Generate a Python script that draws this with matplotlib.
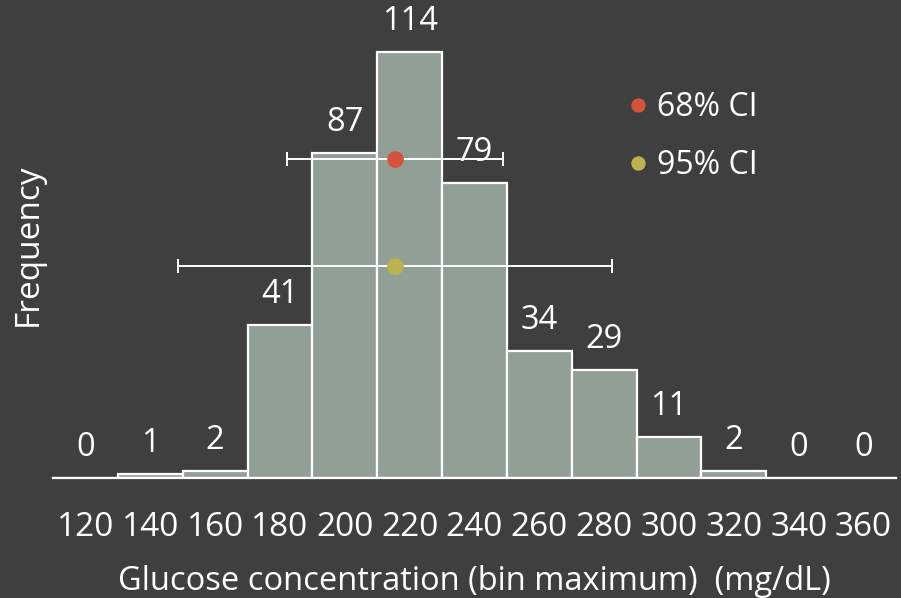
import numpy as np
import matplotlib.pyplot as plt

# Histogram of glucose readings, bins labelled by their maximum
bins = [120, 140, 160, 180, 200, 220, 240, 260, 280, 300, 320, 340, 360]
counts = [0, 1, 2, 41, 87, 114, 79, 34, 29, 11, 2, 0, 0]

# Mean and spread shown as horizontal interval bars
mean_glucose = 215.5
ci68_half = 33.3
ci95_half = 66.8
ci68_height = 85.5
ci95_height = 56.7

BG = '#3f3f3f'
BAR = '#919f95'
RED = '#d5533c'
OLIVE = '#bdb24f'
FS = 24

plt.rcParams['font.family'] = ['Open Sans', 'DejaVu Sans']

fig = plt.figure(figsize=(9.01, 5.98), dpi=100, facecolor=BG)
ax = fig.add_axes([53 / 901, 120 / 598, 843 / 901, 467 / 598])
ax.set_facecolor(BG)

x = np.arange(len(bins))
ax.bar(x, counts, width=1.0, color=BAR, edgecolor='white', linewidth=1.6)

for xi, c in zip(x, counts):
    ax.annotate(str(c), (xi, c), xytext=(0, 10), textcoords='offset points',
                ha='center', va='bottom', color='white', fontsize=FS - 0.5)


def to_pos(g):
    # convert glucose value to category position
    return (g - bins[0]) / (bins[1] - bins[0])


ax.errorbar(to_pos(mean_glucose), ci68_height,
            xerr=ci68_half / (bins[1] - bins[0]), fmt='none',
            ecolor='white', elinewidth=1.4, capsize=5, capthick=1.4)
ax.errorbar(to_pos(mean_glucose), ci95_height,
            xerr=ci95_half / (bins[1] - bins[0]), fmt='none',
            ecolor='white', elinewidth=1.4, capsize=5, capthick=1.4)
ax.plot(to_pos(mean_glucose), ci68_height, 'o', color=RED, markersize=11,
        label='68% CI', zorder=5)
ax.plot(to_pos(mean_glucose), ci95_height, 'o', color=OLIVE, markersize=11,
        label='95% CI', zorder=5)

ax.set_xlim(-0.5, len(bins) - 0.5)
ax.set_ylim(0, 125)
ax.set_xticks(x)
ax.set_xticklabels([str(b) for b in bins])
ax.set_yticks([])
ax.tick_params(axis='x', length=0, pad=24, labelsize=FS, colors='white')
for side in ['top', 'right', 'left']:
    ax.spines[side].set_visible(False)
ax.spines['bottom'].set_color('white')
ax.spines['bottom'].set_linewidth(1.6)

ax.set_xlabel('Glucose concentration (bin maximum)  (mg/dL)', color='white',
              fontsize=FS - 0.5, labelpad=15)
ax.set_ylabel('Frequency', color='white', fontsize=FS, labelpad=6)

leg = ax.legend(loc='upper left', bbox_to_anchor=(0.637, 0.89), frameon=False,
                fontsize=FS - 1, labelcolor='white', handletextpad=0.0,
                handlelength=1.2, labelspacing=0.77, markerscale=0.85)

fig.savefig('out.png', dpi=100, facecolor=BG)
